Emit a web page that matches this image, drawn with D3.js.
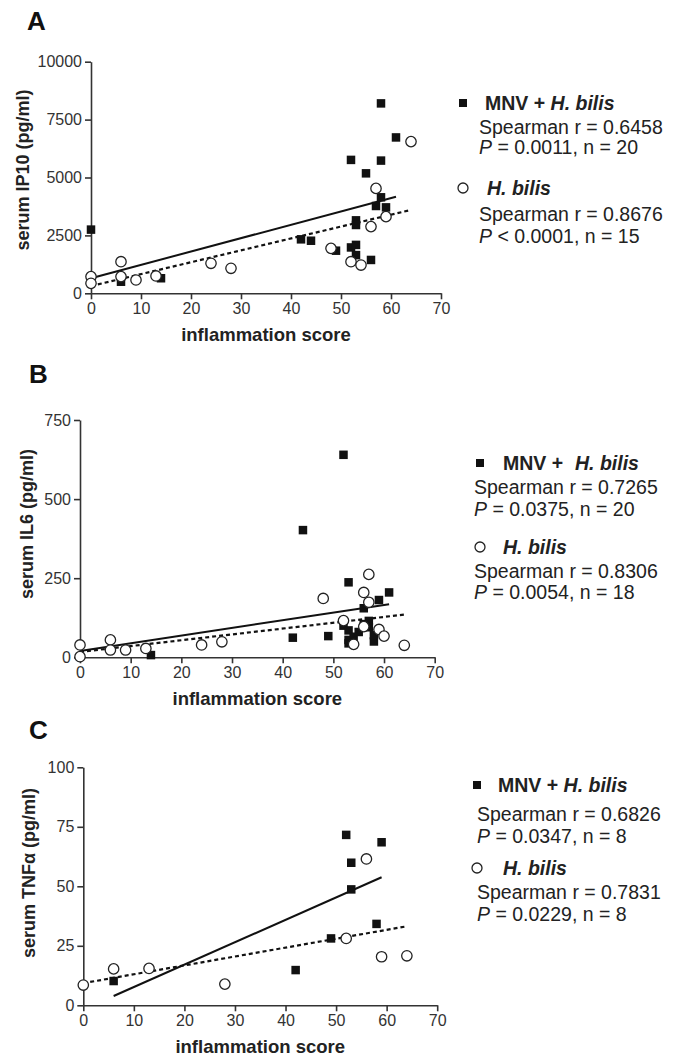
<!DOCTYPE html>
<html>
<head>
<meta charset="utf-8">
<script src="https://cdn.jsdelivr.net/npm/d3@7"></script>
<style>
body { margin: 0; background: #fff; }
text { font-family: "Liberation Sans", Arial, sans-serif; }
</style>
</head>
<body>
<script>
// shared x ticks (inflammation score)
const scoreTicks = [0, 10, 20, 30, 40, 50, 60, 70]

// panel A - serum IP10
const ip10Ticks = [0, 2500, 5000, 7500, 10000]
const ip10Mnv = [[0,2750],[6,500],[14,650],[42,2330],[44,2270],[49,1840],[52,5760],[52,1980],[53,2090],[53,1650],
  [53,3150],[53,2950],[55,5180],[56,1440],[57,3770],[58,8200],[58,5730],[58,4145],[59,3710],[61,6730]]
const ip10Hb = [[0,720],[0,430],[6,1365],[6,720],[9,575],[13,750],[24,1295],[28,1080],[48,1940],[52,1365],
  [54,1220],[56,2880],[57,4530],[59,3310],[64,6550]]
const ip10MnvFit = [[0,650],[61,4170]]
const ip10HbFit = [[0,315],[64,3600]]

// panel B - serum IL6
const il6Ticks = [0, 250, 500, 750]
const il6Mnv = [[14,7],[42,62],[44,402],[49,67],[52,640],[52,100],[53,237],[53,85],[53,55],[53,44],
  [54,65],[55,80],[56,155],[56,105],[57,115],[57,95],[58,50],[58,70],[59,181],[61,205]]
const il6Hb = [[0,39],[0,2],[6,55],[6,23],[9,23],[13,28],[24,39],[28,49],[48,186],[52,116],
  [54,41],[56,97],[56,205],[57,262],[57,174],[59,88],[60,67],[64,38]]
const il6MnvFit = [[0,20],[61,168]]
const il6HbFit = [[0,17],[64,135]]

// panel C - serum TNFa
const tnfTicks = [0, 25, 50, 75, 100]
const tnfMnv = [[6,10.2],[42,14.8],[49,28.1],[52,71.6],[53,59.9],[53,48.7],[58,34.2],[59,68.5]]
const tnfHb = [[0,8.5],[6,15.3],[13,15.5],[28,8.9],[52,28.1],[56,61.5],[59,20.4],[64,20.8]]
const tnfMnvFit = [[6,3.9],[59,53.8]]
const tnfHbFit = [[0,9.3],[64,33.2]]

// legend stats
const spearmanMnv = ["0.6458", "0.7265", "0.6826"]
const pMnv = ["= 0.0011", "= 0.0375", "= 0.0347"]
const nMnv = [20, 20, 8]
const spearmanHb = ["0.8676", "0.8306", "0.7831"]
const pHb = ["< 0.0001", "= 0.0054", "= 0.0229"]
const nHb = [15, 18, 8]

const width = 673
const height = 1062
const axisColor = "#333"

const svg = d3.select("body").append("svg")
    .attr("width", width)
    .attr("height", height)

const panels = [
  {letter: "A", ylabel: "serum IP10 (pg/ml)", yTicks: ip10Ticks, mnv: ip10Mnv, hb: ip10Hb, mnvFit: ip10MnvFit, hbFit: ip10HbFit,
   left: 91, right: 441, top: 61.7, bottom: 293.3, ylx: 23, yly: 170, letterY: 30, letterX: 27,
   leg: {sx: 463, sy: 103, tx: 485, hx: 0, lx: 479, l1: 134, l2: 154, cy: 188, ctx: 487, l3: 221, l4: 243}},
  {letter: "B", ylabel: "serum IL6 (pg/ml)", yTicks: il6Ticks, mnv: il6Mnv, hb: il6Hb, mnvFit: il6MnvFit, hbFit: il6HbFit,
   left: 80, right: 434.7, top: 420, bottom: 657.3, ylx: 27, yly: 524, letterY: 383, letterX: 29,
   leg: {sx: 480, sy: 463, tx: 503, hx: 575, lx: 474, l1: 494, l2: 516, cy: 547, ctx: 503, l3: 578, l4: 599}},
  {letter: "C", ylabel: "serum TNF\u03b1 (pg/ml)", yTicks: tnfTicks, mnv: tnfMnv, hb: tnfHb, mnvFit: tnfMnvFit, hbFit: tnfHbFit,
   left: 83.3, right: 437.2, top: 767.3, bottom: 1005.3, ylx: 29, yly: 873, letterY: 739, letterX: 29,
   leg: {sx: 477, sy: 785, tx: 498, hx: 0, lx: 477, l1: 821, l2: 843, cy: 868, ctx: 503, l3: 899, l4: 921}}
]

var drawPanel = (p, i) => {
    const x = d3.scaleLinear().domain([0, 70]).range([p.left, p.right])
    const y = d3.scaleLinear().domain([0, d3.max(p.yTicks)]).range([p.bottom, p.top])
    const g = svg.append("g")

    //axes
    const xAxis = g.append("g")
        .attr("transform", "translate(0," + p.bottom + ")")
        .call(d3.axisBottom(x).tickValues(scoreTicks).tickSize(6).tickSizeOuter(0).tickPadding(3))
    const yAxis = g.append("g")
        .attr("transform", "translate(" + p.left + ",0)")
        .call(d3.axisLeft(y).tickValues(p.yTicks).tickFormat(d3.format("d")).tickSize(6).tickSizeOuter(0).tickPadding(3))
    ;[xAxis, yAxis].forEach(a => {
        a.selectAll("path, line").attr("stroke", axisColor).attr("stroke-width", 1.6)
        a.selectAll("text").attr("fill", axisColor).attr("font-size", 16).attr("font-family", '"Liberation Sans", Arial, sans-serif')
    })

    //fit lines
    const line = d3.line().x(d => x(d[0])).y(d => y(d[1]))
    g.append("path").datum(p.mnvFit).attr("d", line)
        .attr("fill", "none").attr("stroke", "#111").attr("stroke-width", 2)
    g.append("path").datum(p.hbFit).attr("d", line)
        .attr("fill", "none").attr("stroke", "#111").attr("stroke-width", 2.2).attr("stroke-dasharray", "4,3")

    //squares then circles
    const s = 8.5
    g.selectAll(".sq").data(p.mnv).enter().append("rect")
        .attr("x", d => x(d[0]) - s / 2)
        .attr("y", d => y(d[1]) - s / 2)
        .attr("width", s).attr("height", s)
        .attr("fill", "#111")
    g.selectAll(".ci").data(p.hb).enter().append("circle")
        .attr("cx", d => x(d[0]))
        .attr("cy", d => y(d[1]))
        .attr("r", 5.2)
        .attr("fill", "#fff").attr("stroke", "#222").attr("stroke-width", 1.3)

    //labels
    svg.append("text").attr("x", p.letterX).attr("y", p.letterY)
        .attr("font-size", 26).attr("font-weight", "bold").attr("fill", "#111").text(p.letter)
    svg.append("text")
        .attr("transform", "translate(" + p.ylx + "," + p.yly + ") rotate(-90)")
        .attr("text-anchor", "middle").attr("dominant-baseline", "central")
        .attr("font-size", 18).attr("font-weight", "bold").attr("fill", "#222").text(p.ylabel)
    svg.append("text").attr("x", (p.left + p.right) / 2).attr("y", p.bottom + 48)
        .attr("text-anchor", "middle")
        .attr("font-size", 18.5).attr("font-weight", "bold").attr("fill", "#222").text("inflammation score")

    //legend
    const L = p.leg
    const lg = svg.append("g").attr("fill", "#222").attr("font-size", 19.5)
    lg.append("rect").attr("x", L.sx - 4).attr("y", L.sy - 4).attr("width", 8).attr("height", 8).attr("fill", "#111")
    const t1 = lg.append("text").attr("x", L.tx).attr("y", L.sy + 7).attr("font-weight", "bold")
    t1.append("tspan").text("MNV + ")
    const hb1 = t1.append("tspan").attr("font-style", "italic").text("H. bilis")
    if (L.hx) hb1.attr("x", L.hx)
    lg.append("text").attr("x", L.lx).attr("y", L.l1).text("Spearman r = " + spearmanMnv[i])
    const p1 = lg.append("text").attr("x", L.lx).attr("y", L.l2)
    p1.append("tspan").attr("font-style", "italic").text("P")
    p1.append("tspan").text(" " + pMnv[i] + ", n = " + nMnv[i])

    lg.append("circle").attr("cx", L.sx).attr("cy", L.cy).attr("r", 5).attr("fill", "#fff").attr("stroke", "#222").attr("stroke-width", 1.3)
    lg.append("text").attr("x", L.ctx).attr("y", L.cy + 7).attr("font-weight", "bold").attr("font-style", "italic").text("H. bilis")
    lg.append("text").attr("x", L.lx).attr("y", L.l3).text("Spearman r = " + spearmanHb[i])
    const p2 = lg.append("text").attr("x", L.lx).attr("y", L.l4)
    p2.append("tspan").attr("font-style", "italic").text("P")
    p2.append("tspan").text(" " + pHb[i] + ", n = " + nHb[i])
}

panels.forEach(drawPanel)
</script>
</body>
</html>
